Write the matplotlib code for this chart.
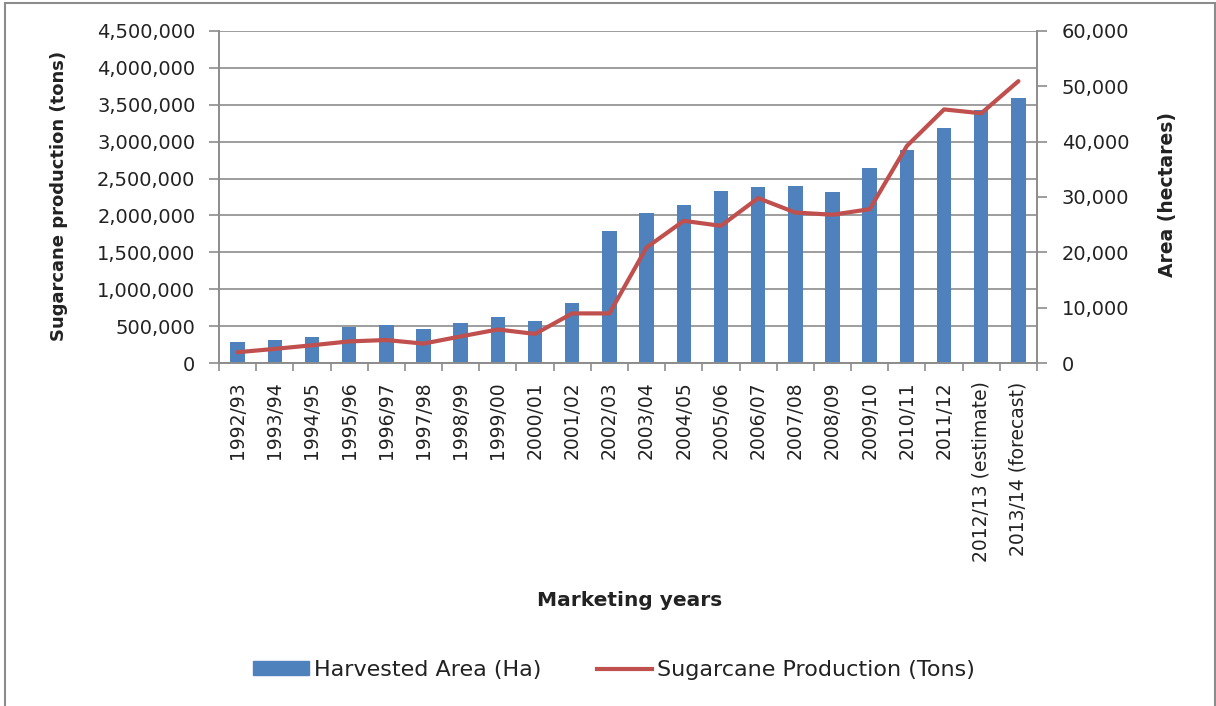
import numpy as np
import matplotlib.pyplot as plt
from matplotlib.patches import Rectangle
from matplotlib.ticker import FuncFormatter, FixedLocator

years = ["1992/93", "1993/94", "1994/95", "1995/96", "1996/97", "1997/98",
         "1998/99", "1999/00", "2000/01", "2001/02", "2002/03", "2003/04",
         "2004/05", "2005/06", "2006/07", "2007/08", "2008/09", "2009/10",
         "2010/11", "2011/12", "2012/13 (estimate)", "2013/14 (forecast)"]

# bars, read against the left axis
harvested = [286000, 318000, 355000, 495000, 518000, 468000,
             550000, 632000, 568000, 818000, 1793000, 2027000,
             2140000, 2333000, 2383000, 2401000, 2315000, 2644000,
             2892000, 3185000, 3423000, 3595000]

# line, read against the right axis
production = [2000, 2600, 3250, 3950, 4200, 3550,
              4850, 6100, 5300, 9000, 9000, 20900,
              25700, 24800, 29800, 27200, 26800, 27800,
              39200, 45800, 45100, 50900]

blue = "#4F81BD"
red = "#C0504D"
grey = "#8c8c8c"
txt = "#222222"

fig = plt.figure(figsize=(12.16, 7.06), dpi=100)
ax = fig.add_axes([219 / 1216, 1 - 363.3 / 706, 818 / 1216, 332.6 / 706])
ax2 = ax.twinx()

x = np.arange(len(years))
ax.bar(x, harvested, width=0.39, color=blue, zorder=2)
ax2.plot(x, production, color=red, lw=3.0, solid_joinstyle="round",
         solid_capstyle="round")

ax.set_xlim(-0.5, len(years) - 0.5)
ax.set_ylim(0, 4500000)
ax2.set_ylim(0, 60000)
ax.set_yticks(np.arange(0, 4500001, 500000))
ax2.set_yticks(np.arange(0, 60001, 10000))

comma = FuncFormatter(lambda v, p: f"{int(v):,}")
ax.yaxis.set_major_formatter(comma)
ax2.yaxis.set_major_formatter(comma)

ax.set_axisbelow(True)
ax.yaxis.grid(True, color=grey, lw=1.2)

# labels at category centres, tick marks on the boundaries
ax.set_xticks(x)
ax.set_xticklabels(years, rotation=90, fontsize=13.5, color=txt)
ax.tick_params(axis="x", which="major", length=0, pad=13)
ax.xaxis.set_minor_locator(FixedLocator(np.arange(-0.5, len(years), 1)))
ax.tick_params(axis="x", which="minor", length=6, color=grey, width=1.2)

ax.tick_params(axis="y", length=7, color=grey, width=1.2, pad=10,
               labelsize=14, labelcolor=txt)
ax2.tick_params(axis="y", length=7, color=grey, width=1.2, pad=11,
                labelsize=14, labelcolor=txt)

for a in (ax, ax2):
    a.spines["top"].set_visible(False)
    for s in ("left", "right", "bottom"):
        a.spines[s].set_color(grey)
        a.spines[s].set_linewidth(1.2)

fig.text(59 / 1216, 1 - 196 / 706, "Sugarcane production (tons)", rotation=90,
         ha="center", va="center", fontsize=13, fontweight="bold", color=txt)
fig.text(1168 / 1216, 1 - 195 / 706, "Area (hectares)", rotation=90,
         ha="center", va="center", fontsize=13.5, fontweight="bold", color=txt)
fig.text(630 / 1216, 1 - 601 / 706, "Marketing years",
         ha="center", va="center", fontsize=14.5, fontweight="bold", color=txt)

h1 = plt.Rectangle((0, 0), 1, 1, color=blue)
h2 = plt.Line2D([], [], color=red, lw=3.0)
fig.legend([h1, h2], ["Harvested Area (Ha)", "Sugarcane Production (Tons)"],
           loc="center", bbox_to_anchor=(614 / 1216, 1 - 670 / 706), ncol=2,
           frameon=False, fontsize=16, handlelength=2.5, handleheight=0.55,
           handletextpad=0.22, columnspacing=2.5, labelcolor=txt)

fig.patches.append(Rectangle((4.5 / 1216, -0.1), 1210 / 1216, 1.1 - 2.5 / 706,
                             transform=fig.transFigure, fill=False,
                             edgecolor=grey, lw=1.5))

fig.savefig("out.png", dpi=100)
